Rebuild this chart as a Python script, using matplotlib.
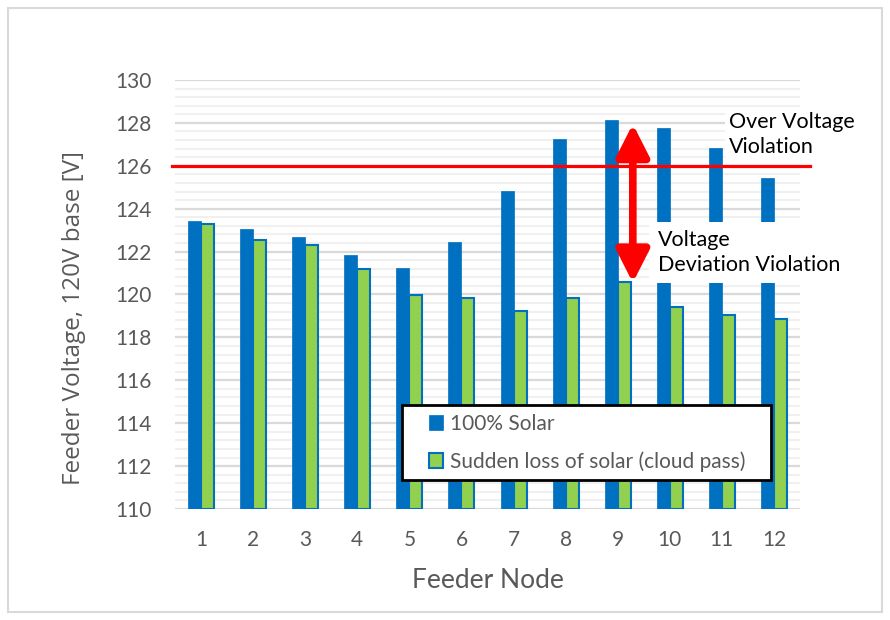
import matplotlib.pyplot as plt
import numpy as np
from matplotlib.patches import Rectangle
from matplotlib.ticker import MultipleLocator

nodes = [1, 2, 3, 4, 5, 6, 7, 8, 9, 10, 11, 12]
full_solar = [123.44, 123.04, 122.68, 121.84, 121.22, 122.43,
              124.83, 127.25, 128.14, 127.75, 126.84, 125.45]
cloud_pass = [123.3, 122.56, 122.31, 121.2, 119.98, 119.85,
              119.24, 119.85, 120.6, 119.43, 119.03, 118.87]
limit_voltage = 126
series_labels = ["100% Solar", "Sudden loss of solar (cloud pass)"]

BLUE = "#0070C0"
GREEN = "#92D050"
GREY = "#595959"
FONT = "Lato"

fig = plt.figure(figsize=(8.9, 6.2), dpi=100)
fig.patches.append(Rectangle((8 / 890, 8 / 620), 874 / 890, 604 / 620,
                             transform=fig.transFigure, fill=False,
                             edgecolor="#d9d9d9", linewidth=1.5))
ax = fig.add_axes([175 / 890, 1 - 509 / 620, 625 / 890, 429 / 620])

x = np.array(nodes)
width = 0.25
ax.bar(x - width / 2, np.array(full_solar) - 110, width, bottom=110,
       color=BLUE, edgecolor=BLUE, linewidth=0.5, zorder=3,
       label=series_labels[0])
ax.bar(x + width / 2, np.array(cloud_pass) - 110, width, bottom=110,
       color=GREEN, edgecolor=BLUE, linewidth=1.5, zorder=3,
       label=series_labels[1])

ax.set_xlim(0.5, 12.5)
ax.set_ylim(110, 130)
ax.yaxis.set_major_locator(MultipleLocator(2))
ax.yaxis.set_minor_locator(MultipleLocator(0.4))
ax.set_xticks(x)
ax.grid(axis="y", which="major", color="#d9d9d9", linewidth=1.6, zorder=0)
ax.grid(axis="y", which="minor", color="#f0f0f0", linewidth=1.5, zorder=0)
ax.set_axisbelow(True)
for side in ["top", "right", "left", "bottom"]:
  ax.spines[side].set_visible(False)
ax.tick_params(which="both", length=0)
ax.tick_params(axis="y", pad=17, labelsize=15, labelcolor=GREY)
ax.tick_params(axis="x", pad=15, labelsize=15, labelcolor=GREY)
for lbl in ax.get_xticklabels() + ax.get_yticklabels():
  lbl.set_fontfamily(FONT)

ax.set_xlabel("Feeder Node", fontsize=19, color=GREY, family=FONT,
              labelpad=13)
ax.set_ylabel("Feeder Voltage, 120V base [V]", fontsize=17.5, color=GREY,
              family="Open Sans")
ax.yaxis.set_label_coords(-0.143, 0.445)

# over-voltage limit, drawn a bit past the plot area
ax.plot([0.44, 12.69], [limit_voltage, limit_voltage], color="red",
        linewidth=2.3, clip_on=False, zorder=7)

ax.annotate("", xy=(9.29, 127.95), xytext=(9.29, 120.55),
            arrowprops=dict(arrowstyle="<|-|>,head_length=0.65,head_width=0.33",
                            mutation_scale=30, color="red", lw=5.5,
                            shrinkA=0, shrinkB=0),
            zorder=8)

ax.text(11.13, 128.5, "Over Voltage\nViolation", fontsize=15.5, family=FONT,
        color="black", va="top", ha="left", linespacing=1.3, zorder=5,
        bbox=dict(facecolor="white", edgecolor="none", pad=3))
ax.text(9.77, 123.0, "Voltage\nDeviation Violation", fontsize=15.5,
        family=FONT, color="black", va="top", ha="left", linespacing=1.3,
        zorder=5, bbox=dict(facecolor="white", edgecolor="none", pad=6))

# legend frame drawn separately so the entries can sit indented
ax.add_patch(Rectangle((0.363, 0.0676), 0.591, 0.1748, transform=ax.transAxes,
                       facecolor="white", edgecolor="black", linewidth=2,
                       zorder=8, clip_on=False))
leg = ax.legend(loc="upper left", bbox_to_anchor=(0.406, 0.222),
                fontsize=15, frameon=False, labelspacing=0.85,
                handlelength=0.7, handleheight=0.7, handletextpad=0.3,
                borderpad=0, borderaxespad=0)
leg.set_zorder(9)
for t in leg.get_texts():
  t.set_color(GREY)
  t.set_fontfamily(FONT)

fig.savefig("out.png", dpi=100)
